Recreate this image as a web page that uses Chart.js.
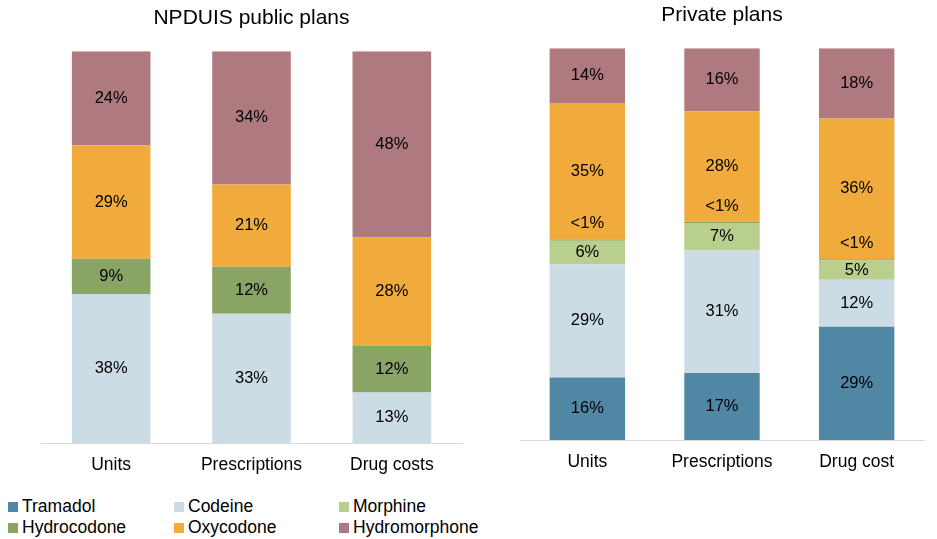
<!DOCTYPE html>
<html>
<head>
<meta charset="utf-8">
<script src="https://cdn.jsdelivr.net/npm/chart.js@4.4.1/dist/chart.umd.min.js"></script>
<style>
  body { margin: 0; background: #fff; font-family: "Liberation Sans", Arial, sans-serif; }
  #boxPublico { position: absolute; left: 0; top: 0; }
  #boxPrivado { position: absolute; left: 507px; top: 0; }
  #legenda {
    position: absolute; left: 8px; top: 496px;
    display: grid; grid-template-columns: 166px 165px 170px; grid-auto-rows: 21px;
    font-size: 17.5px; color: #000;
  }
  .item { display: flex; align-items: center; white-space: nowrap; }
  .quadrado { width: 10px; height: 10px; margin-right: 4px; }
</style>
</head>
<body>
<div id="boxPublico"><canvas id="graficoPublico" width="503" height="480"></canvas></div>
<div id="boxPrivado"><canvas id="graficoPrivado" width="430" height="480"></canvas></div>
<div id="legenda"></div>

<script>
// dados
const medicamentos = ["Tramadol", "Codeine", "Morphine", "Hydrocodone", "Oxycodone", "Hydromorphone"];
const cores = ["#4f87a5", "#cbdce4", "#b8cf8e", "#8aa466", "#f0ab3c", "#af7a7f"];

const categoriasPublico = ["Units", "Prescriptions", "Drug costs"];
const categoriasPrivado = ["Units", "Prescriptions", "Drug cost"];

// valores em %, na ordem dos medicamentos (0 = não aparece)
const publicoTramadol = [0, 0, 0];
const publicoCodeine = [38, 33, 13];
const publicoMorphine = [0, 0, 0];
const publicoHydrocodone = [9, 12, 12];
const publicoOxycodone = [29, 21, 28];
const publicoHydromorphone = [24, 34, 48];

const privadoTramadol = [16, 17, 29];
const privadoCodeine = [29, 31, 12];
const privadoMorphine = [6, 7, 5];
const privadoHydrocodone = [0.3, 0.3, 0.3]; // rotulado "<1%"
const privadoOxycodone = [35, 28, 36];
const privadoHydromorphone = [14, 16, 18];

const fonte = "'Liberation Sans', Arial, sans-serif";

// gráfico 100% empilhado: normaliza cada barra pelo total
function montarDatasets(series) {
  const totais = series[0].map((_, j) => series.reduce((s, serie) => s + serie[j], 0));
  return series.map((serie, i) => ({
    label: medicamentos[i],
    data: serie.map((v, j) => (v / totais[j]) * 100),
    valores: serie,
    backgroundColor: cores[i],
    borderWidth: 0,
    barPercentage: 0.56,
    categoryPercentage: 1,
  }));
}

// rótulos de dados dentro das barras
const rotulosPlugin = {
  id: "rotulos",
  afterDatasetsDraw(chart) {
    const ctx = chart.ctx;
    ctx.save();
    ctx.font = "16.5px " + fonte;
    ctx.fillStyle = "#000";
    ctx.textAlign = "center";
    ctx.textBaseline = "middle";
    chart.data.datasets.forEach((ds, i) => {
      chart.getDatasetMeta(i).data.forEach((bar, j) => {
        const v = ds.valores[j];
        if (!v) return;
        let texto = v + "%";
        let y = (bar.y + bar.base) / 2;
        if (v < 1) {
          texto = "<1%";
          y = bar.base - 17;
        }
        ctx.fillText(texto, bar.x, y);
      });
    });
    ctx.restore();
  },
};

function criarGrafico(id, titulo, categorias, series, pad) {
  new Chart(document.getElementById(id), {
    type: "bar",
    data: {
      labels: categorias,
      datasets: montarDatasets(series),
    },
    options: {
      responsive: false,
      animation: false,
      layout: { padding: { left: pad.lado, right: pad.lado, top: 0, bottom: 0 } },
      plugins: {
        legend: { display: false },
        tooltip: { enabled: false },
        title: {
          display: true,
          text: titulo,
          color: "#000",
          font: { family: fonte, size: 21, weight: "normal" },
          padding: { top: pad.tituloTopo, bottom: 20 },
        },
      },
      scales: {
        y: { stacked: true, display: false, min: 0, max: 100 },
        x: {
          stacked: true,
          grid: { display: false, drawTicks: false },
          border: { display: true, color: "#d9d9d9", width: 1 },
          ticks: { color: "#000", padding: pad.ticks, font: { family: fonte, size: 17.5 } },
          afterFit: (scale) => { scale.height = pad.eixo; },
        },
      },
    },
    plugins: [rotulosPlugin],
  });
}

criarGrafico("graficoPublico", "NPDUIS public plans", categoriasPublico,
  [publicoTramadol, publicoCodeine, publicoMorphine, publicoHydrocodone, publicoOxycodone, publicoHydromorphone],
  { lado: 41, tituloTopo: 6, ticks: 12, eixo: 37 });

criarGrafico("graficoPrivado", "Private plans", categoriasPrivado,
  [privadoTramadol, privadoCodeine, privadoMorphine, privadoHydrocodone, privadoOxycodone, privadoHydromorphone],
  { lado: 13, tituloTopo: 3, ticks: 12, eixo: 40 });

// legenda em html, 3 colunas
const legenda = document.getElementById("legenda");
medicamentos.forEach((nome, i) => {
  const item = document.createElement("div");
  item.className = "item";
  item.innerHTML = `<span class="quadrado" style="background:${cores[i]}"></span>${nome}`;
  legenda.appendChild(item);
});
</script>
</body>
</html>
